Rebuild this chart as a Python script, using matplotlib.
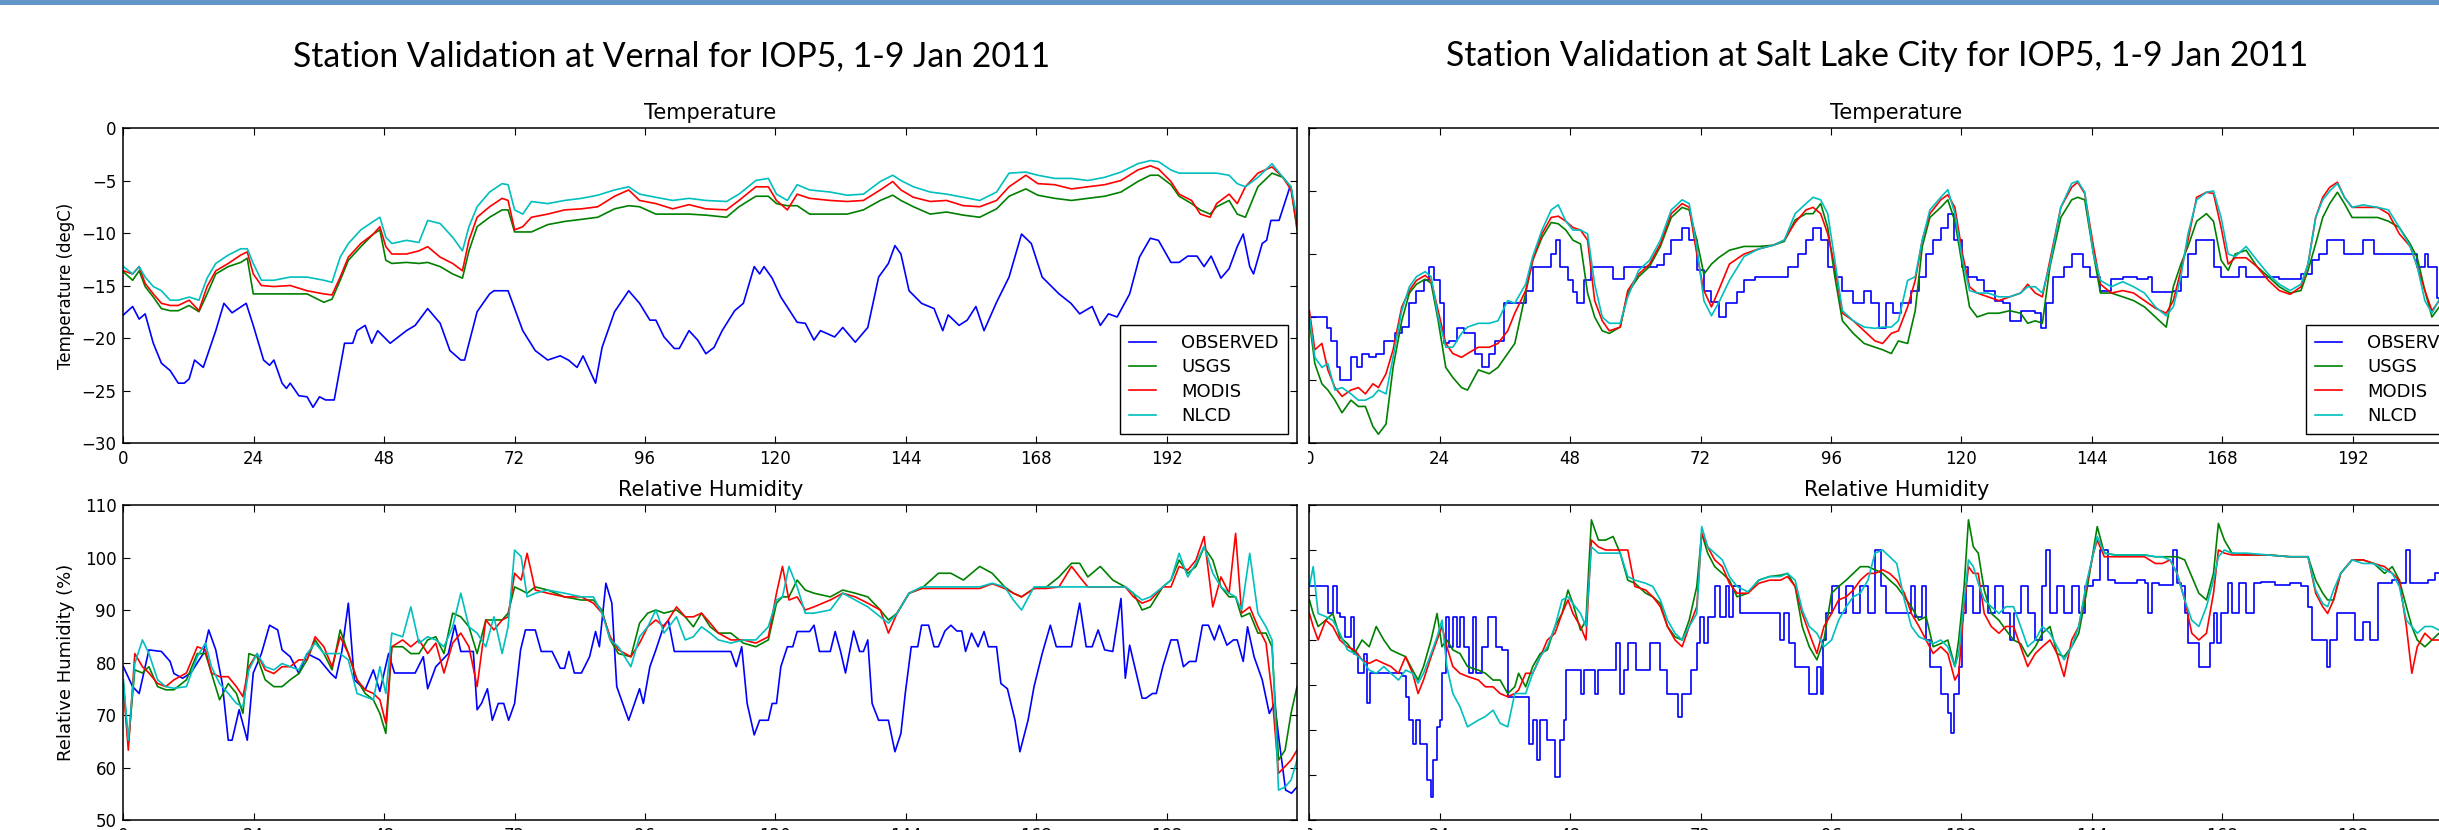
import matplotlib
matplotlib.use("Agg")
import matplotlib.pyplot as plt
from matplotlib.patches import Rectangle

# ---------------------------------------------------------------------------
# Vernal - temperature (degC)
# ---------------------------------------------------------------------------
vernal_obs_t_hours = [
    0, 1.7, 2.9, 4.0, 5.5, 7.0, 8.6, 10.1, 11.2, 12.1, 13.1, 14.7, 17.0, 18.5,
    20.0, 22.6, 23.9, 25.8, 26.9, 27.7, 29.2, 30.0, 30.7, 32.3, 33.8, 34.9,
    36.1, 37.2, 38.8, 40.7, 42.2, 43.0, 44.5, 45.7, 46.8, 49.1, 52.1, 53.7,
    56.0, 58.3, 60.1, 62.1, 62.8, 65.1, 67.4, 68.2, 70.8, 73.5, 75.8, 78.1,
    80.4, 81.9, 83.5, 84.6, 86.9, 88.1, 90.4, 93.0, 95.0, 96.9, 98.0, 99.5,
    101.4, 102.3, 104.1, 105.7, 107.2, 108.7, 110.2, 112.5, 114.1, 116.1,
    117.1, 117.9, 119.4, 121.0, 124.0, 125.5, 127.1, 128.3, 130.9, 132.4,
    134.7, 137.0, 139.0, 140.8, 142.0, 143.1, 144.6, 146.9, 149.2, 150.8,
    151.8, 153.8, 155.3, 156.9, 158.4, 160.7, 163.0, 165.3, 167.1, 169.1,
    172.2, 174.4, 176.0, 178.3, 179.8, 181.3, 182.9, 185.2, 187.0, 189.0,
    190.5, 192.8, 194.3, 195.9, 197.6, 198.9, 200.2, 202.0, 203.5, 205.0,
    206.1, 207.3, 208.0, 209.6, 210.4, 211.2, 212.7, 214.7, 215.0]
vernal_obs_t = [
    -17.8, -17.0, -18.2, -17.7, -20.5, -22.4, -23.1, -24.3, -24.3, -23.9,
    -22.1, -22.8, -19.3, -16.7, -17.6, -16.7, -18.8, -22.1, -22.6, -22.1,
    -24.3, -24.8, -24.3, -25.5, -25.6, -26.6, -25.6, -25.9, -25.9, -20.5,
    -20.5, -19.3, -18.8, -20.5, -19.3, -20.5, -19.3, -18.8, -17.2, -18.6,
    -21.2, -22.1, -22.1, -17.5, -15.8, -15.5, -15.5, -19.3, -21.2, -22.1,
    -21.7, -22.1, -22.8, -21.7, -24.3, -20.9, -17.5, -15.5, -16.7, -18.3,
    -18.3, -19.9, -21.0, -21.0, -19.3, -20.2, -21.5, -20.9, -19.3, -17.4,
    -16.7, -13.2, -13.9, -13.2, -14.3, -16.1, -18.5, -18.6, -20.2, -19.3,
    -19.9, -19.0, -20.4, -19.0, -14.2, -12.9, -11.2, -12.0, -15.5, -16.7,
    -17.2, -19.3, -17.8, -18.8, -18.3, -17.0, -19.3, -16.6, -14.2, -10.1,
    -11.0, -14.2, -15.8, -16.7, -17.7, -17.0, -18.8, -17.7, -18.0, -15.8,
    -12.3, -10.5, -10.7, -12.8, -12.8, -12.2, -12.2, -13.2, -12.2, -14.3,
    -13.4, -11.3, -10.1, -13.2, -13.9, -11.0, -10.7, -8.8, -8.8, -5.6, -6.0]

vernal_model_t_hours = [
    0, 1.7, 2.9, 4.0, 5.5, 7.0, 8.6, 10.1, 12.1, 13.9,
    15.4, 17.0, 19.3, 21.6, 22.8, 23.9, 25.4, 27.7, 30.7, 33.8,
    36.9, 38.4, 39.9, 41.4, 43.7, 46.0, 47.2, 48.3, 49.4, 52.1,
    54.4, 56.0, 58.3, 60.6, 62.4, 63.6, 65.1, 67.4, 69.7, 70.8,
    72.0, 73.5, 75.1, 78.1, 81.2, 84.3, 87.3, 90.4, 93.0, 95.0,
    98.0, 101.1, 104.1, 107.2, 111.0, 113.3, 116.4, 118.7, 120.2, 122.2,
    124.0, 126.3, 130.1, 133.2, 136.2, 139.3, 141.6, 143.1, 145.4, 148.5,
    151.5, 154.6, 157.6, 160.7, 163.0, 166.1, 168.3, 171.4, 174.5, 177.5,
    180.6, 183.6, 186.7, 189.0, 190.5, 192.8, 194.3, 196.6, 198.2, 200.0,
    201.2, 203.5, 205.0, 206.5, 208.8, 211.4, 213.4, 214.9, 216.0]
vernal_usgs_t = [
    -13.7, -14.5, -13.6, -15.1, -16.1, -17.2, -17.4, -17.4, -16.9, -17.5,
    -15.8, -13.9, -13.2, -12.8, -12.4, -15.8, -15.8, -15.8, -15.8, -15.8,
    -16.6, -16.3, -14.5, -12.6, -11.3, -10.1, -9.7, -12.6, -12.9, -12.8,
    -12.9, -12.8, -13.2, -13.9, -14.3, -11.7, -9.4, -8.5, -7.8, -7.8,
    -9.9, -9.9, -9.9, -9.2, -8.9, -8.7, -8.5, -7.7, -7.4, -7.5,
    -8.2, -8.2, -8.2, -8.3, -8.5, -7.5, -6.5, -6.5, -7.2, -7.4,
    -7.4, -8.2, -8.2, -8.2, -7.8, -6.9, -6.4, -6.9, -7.5, -8.2,
    -8.0, -8.3, -8.5, -7.7, -6.5, -5.8, -6.4, -6.7, -6.9, -6.7,
    -6.5, -6.1, -5.1, -4.5, -4.5, -5.4, -6.5, -7.2, -7.8, -8.2,
    -7.5, -6.9, -8.2, -8.5, -5.6, -4.3, -4.7, -5.6, -9.7]
vernal_modis_t = [
    -13.6, -13.9, -13.2, -14.8, -15.8, -16.7, -16.9, -16.9, -16.4, -17.4,
    -15.1, -13.6, -12.9, -12.1, -11.8, -13.9, -15.0, -15.1, -15.0, -15.5,
    -15.8, -15.9, -14.2, -12.3, -11.0, -10.1, -9.4, -11.3, -12.0, -12.0,
    -11.7, -11.3, -12.3, -12.9, -13.6, -10.7, -8.5, -7.5, -6.7, -6.9,
    -9.7, -9.4, -8.5, -8.2, -7.8, -7.7, -7.5, -6.5, -5.9, -6.9,
    -7.2, -7.7, -7.3, -7.7, -7.8, -6.9, -5.6, -5.6, -6.9, -7.8,
    -6.3, -6.7, -6.9, -7.0, -6.9, -5.9, -5.1, -5.9, -6.6, -7.0,
    -6.9, -7.4, -7.5, -6.9, -5.6, -4.5, -5.3, -5.4, -5.8, -5.6,
    -5.4, -5.0, -4.0, -3.6, -3.9, -5.1, -6.3, -6.9, -8.2, -8.5,
    -7.2, -6.3, -7.2, -5.6, -4.3, -3.7, -4.7, -5.9, -9.4]
vernal_nlcd_t = [
    -13.2, -13.9, -13.2, -14.2, -15.1, -15.5, -16.4, -16.4, -16.1, -16.4,
    -14.3, -12.9, -12.1, -11.5, -11.5, -12.9, -14.5, -14.5, -14.2, -14.2,
    -14.5, -14.7, -12.3, -11.0, -9.7, -8.9, -8.5, -10.4, -11.0, -10.7,
    -10.9, -8.8, -9.1, -10.4, -11.7, -9.4, -7.5, -6.1, -5.3, -5.4,
    -7.8, -8.2, -7.0, -7.2, -6.9, -6.7, -6.4, -5.9, -5.6, -6.3,
    -6.6, -6.9, -6.7, -6.9, -7.0, -6.3, -5.0, -4.8, -6.3, -6.9,
    -5.4, -5.9, -6.1, -6.4, -6.3, -5.1, -4.5, -5.0, -5.6, -6.1,
    -6.3, -6.6, -6.9, -6.1, -4.3, -4.2, -4.5, -4.8, -4.8, -5.0,
    -4.7, -4.2, -3.4, -3.1, -3.2, -4.0, -4.3, -4.3, -4.3, -4.3,
    -4.3, -4.5, -5.3, -5.6, -4.7, -3.4, -4.7, -5.6, -8.5]

# ---------------------------------------------------------------------------
# Vernal - relative humidity (%)
# ---------------------------------------------------------------------------
vernal_obs_rh_hours = [
    0, 1.7, 2.9, 4.7, 7.0, 8.6, 9.3, 10.9, 12.4, 14.7, 15.7, 17.0, 18.2, 19.3,
    20.0, 21.3, 22.8, 23.9, 25.4, 26.9, 28.4, 29.2, 30.7, 32.3, 33.8, 36.1,
    38.1, 39.1, 40.2, 41.4, 42.5, 44.5, 46.0, 47.2, 48.8, 49.9, 53.7, 55.2,
    56.0, 57.5, 59.8, 61.0, 62.1, 64.4, 65.1, 65.9, 67.0, 67.9, 69.0, 70.0,
    70.9, 72.0, 73.1, 74.0, 75.8, 76.9, 78.9, 80.4, 81.2, 82.0, 83.0, 84.3,
    85.8, 86.9, 87.6, 88.8, 89.9, 90.8, 91.9, 93.0, 95.0, 95.7, 96.9, 98.0,
    99.5, 100.3, 101.4, 111.8, 112.8, 113.8, 114.8, 116.1, 117.1, 118.7,
    119.4, 120.2, 121.0, 122.2, 123.2, 124.0, 126.3, 127.1, 128.1, 130.1,
    131.0, 132.0, 132.9, 134.4, 135.5, 136.2, 137.0, 137.8, 139.0, 140.8,
    142.0, 143.1, 143.9, 145.0, 146.2, 146.9, 148.2, 149.2, 150.0, 151.2,
    152.3, 153.4, 154.3, 155.0, 156.1, 157.3, 158.4, 159.2, 160.7, 161.5,
    162.7, 164.1, 165.0, 166.5, 167.6, 169.1, 170.6, 171.7, 174.5, 176.0,
    177.2, 178.3, 179.4, 180.6, 182.1, 183.6, 184.4, 185.2, 186.4, 187.5,
    188.2, 189.4, 190.1, 191.3, 192.8, 194.0, 195.1, 196.2, 197.4, 198.6,
    199.7, 200.8, 201.7, 203.1, 204.3, 205.0, 206.1, 206.9, 208.1, 209.6,
    210.9, 211.9, 212.7, 213.9, 215.0, 216.0]
vernal_obs_rh = [
    79.2, 75.4, 74.1, 82.4, 82.1, 80.2, 77.9, 77.0, 78.0, 81.7, 86.2, 82.4,
    76.0, 65.2, 65.2, 71.0, 65.2, 78.0, 81.7, 87.1, 86.2, 82.4, 81.1, 77.9,
    81.7, 80.5, 78.0, 77.0, 82.1, 91.3, 76.7, 74.8, 78.6, 74.5, 81.7, 78.0,
    78.0, 81.1, 75.0, 79.2, 81.7, 87.1, 82.1, 82.1, 71.0, 72.2, 75.0, 69.0,
    72.2, 72.2, 69.0, 72.2, 82.4, 86.2, 86.2, 82.1, 82.1, 78.9, 78.9, 82.1,
    78.0, 78.0, 81.1, 85.9, 83.0, 95.1, 91.3, 75.4, 72.2, 69.0, 75.0, 72.2,
    79.2, 82.4, 87.1, 88.0, 82.1, 82.1, 79.2, 83.0, 72.2, 66.2, 69.0, 69.0,
    72.2, 72.2, 79.2, 83.0, 83.0, 85.9, 85.9, 87.1, 82.1, 82.1, 85.9, 82.1,
    78.0, 86.0, 82.1, 82.1, 84.3, 72.2, 69.0, 69.0, 63.0, 66.5, 74.1, 83.0,
    83.0, 87.1, 87.1, 83.0, 83.0, 86.0, 87.1, 86.0, 86.0, 82.1, 85.6, 83.0,
    85.9, 83.0, 83.0, 76.0, 75.0, 69.0, 63.0, 69.0, 75.4, 81.7, 87.1, 83.0,
    83.0, 91.3, 83.0, 83.0, 86.2, 82.4, 82.1, 92.2, 77.0, 83.3, 78.0, 73.2,
    73.2, 74.1, 74.1, 79.2, 84.3, 84.3, 79.2, 80.2, 80.2, 87.1, 87.1, 84.3,
    87.1, 83.3, 84.3, 84.3, 80.2, 86.8, 81.1, 76.7, 70.3, 72.2, 65.2, 55.7,
    55.1, 56.3]

vernal_model_rh_hours = [
    0, 0.9, 2.1, 3.5, 4.7, 6.3, 7.8, 9.3, 11.6, 13.6,
    15.1, 16.2, 17.7, 19.3, 20.8, 22.0, 23.1, 24.6, 26.1, 27.7,
    29.2, 30.7, 32.3, 33.8, 35.3, 36.9, 38.4, 39.9, 41.4, 43.0,
    44.5, 46.0, 47.2, 48.3, 49.4, 51.4, 52.9, 54.4, 56.0, 57.5,
    59.0, 60.6, 62.1, 63.6, 65.1, 66.7, 68.2, 69.7, 70.8, 72.0,
    73.2, 74.3, 75.8, 78.1, 81.2, 84.3, 86.5, 88.1, 89.6, 91.1,
    93.4, 95.0, 96.5, 98.0, 99.5, 101.8, 103.4, 104.9, 106.4, 108.0,
    109.5, 111.8, 114.1, 116.4, 118.7, 120.2, 121.3, 122.5, 124.0, 125.5,
    127.1, 130.1, 132.4, 134.7, 137.0, 139.3, 140.8, 142.4, 144.6, 146.9,
    150.0, 152.3, 154.6, 157.6, 159.9, 162.2, 163.8, 165.3, 167.6, 169.9,
    172.2, 174.5, 176.0, 177.5, 179.8, 182.1, 184.4, 185.9, 187.5, 189.0,
    191.3, 192.8, 194.3, 195.9, 197.4, 198.9, 200.5, 202.0, 203.5, 204.7,
    205.8, 207.3, 208.8, 210.3, 211.4, 212.6, 213.8, 214.9, 216.0]
vernal_usgs_rh = [
    76.0, 64.6, 78.6, 78.0, 79.2, 75.4, 74.8, 74.8, 76.7, 81.7,
    81.7, 78.0, 72.9, 76.0, 74.1, 70.3, 81.7, 81.1, 76.7, 75.4,
    75.4, 76.7, 77.9, 80.5, 84.3, 81.7, 78.6, 86.2, 81.7, 76.7,
    74.1, 72.9, 70.3, 66.5, 83.0, 83.0, 81.7, 81.7, 84.3, 84.9,
    81.7, 89.4, 88.7, 86.8, 81.7, 88.1, 88.1, 88.1, 89.4, 94.4,
    93.8, 93.2, 94.4, 93.8, 92.5, 91.9, 91.9, 89.9, 84.3, 81.7,
    81.1, 87.5, 89.4, 90.0, 89.4, 90.0, 88.7, 86.8, 89.4, 86.8,
    85.6, 85.6, 83.7, 83.0, 84.3, 91.3, 92.5, 92.5, 95.7, 93.8,
    93.2, 92.5, 93.8, 93.2, 92.5, 90.0, 88.1, 89.4, 93.2, 94.1,
    97.0, 97.0, 95.7, 98.3, 97.0, 94.4, 93.2, 92.5, 94.1, 94.4,
    96.3, 98.9, 98.9, 96.3, 98.3, 95.7, 94.4, 93.2, 90.0, 90.6,
    94.4, 95.7, 99.5, 97.0, 98.3, 102.0, 99.5, 94.4, 92.5, 92.5,
    88.7, 89.4, 85.6, 85.6, 83.0, 61.4, 63.3, 70.3, 75.4]
vernal_modis_rh = [
    75.4, 63.3, 81.7, 79.2, 78.0, 76.0, 75.4, 76.7, 78.0, 83.0,
    82.4, 78.0, 77.3, 77.3, 75.4, 73.5, 79.2, 81.7, 78.6, 77.9,
    79.2, 79.2, 80.5, 80.5, 84.9, 83.0, 79.2, 84.9, 81.7, 76.7,
    74.8, 74.1, 72.9, 68.4, 83.0, 84.3, 83.0, 84.3, 81.7, 83.7,
    78.0, 83.7, 85.6, 83.0, 75.4, 88.1, 86.2, 88.1, 88.7, 97.0,
    95.7, 100.8, 93.8, 93.2, 92.5, 92.5, 91.3, 89.4, 84.9, 82.4,
    81.1, 83.7, 86.8, 88.1, 86.8, 90.6, 88.7, 88.7, 89.4, 87.5,
    85.6, 84.3, 84.3, 83.7, 84.9, 93.2, 98.3, 91.9, 92.5, 90.0,
    90.6, 91.9, 93.2, 92.5, 91.3, 90.0, 85.6, 89.4, 93.2, 94.1,
    94.1, 94.1, 94.1, 94.1, 95.0, 94.1, 93.2, 92.5, 94.1, 94.1,
    94.4, 98.3, 96.3, 94.4, 94.4, 94.4, 94.4, 92.5, 91.3, 91.9,
    94.4, 94.4, 98.3, 97.6, 99.5, 104.0, 90.6, 96.3, 93.2, 104.6,
    89.4, 90.6, 86.8, 83.7, 74.1, 58.9, 60.2, 61.4, 63.3]
vernal_nlcd_rh = [
    76.7, 65.2, 79.8, 84.3, 81.7, 76.7, 75.4, 75.1, 75.4, 81.1,
    83.7, 79.2, 76.0, 74.1, 72.2, 71.6, 78.6, 81.7, 79.2, 78.6,
    79.8, 79.2, 78.6, 81.7, 83.7, 81.7, 81.7, 81.7, 80.5, 74.1,
    73.5, 72.9, 79.2, 74.1, 85.6, 84.9, 90.6, 83.7, 84.9, 84.3,
    83.0, 86.8, 93.2, 86.8, 85.6, 83.0, 88.7, 81.7, 86.8, 101.4,
    100.2, 92.5, 93.2, 93.8, 93.2, 92.5, 92.5, 89.4, 84.3, 83.0,
    79.2, 84.9, 86.8, 90.0, 85.6, 88.7, 84.3, 84.9, 86.8, 85.6,
    84.3, 83.7, 84.3, 84.3, 86.8, 91.9, 92.5, 98.3, 94.4, 89.4,
    89.4, 90.0, 93.2, 91.9, 90.6, 88.7, 87.5, 89.4, 93.2, 94.4,
    94.4, 94.4, 94.4, 94.4, 95.1, 94.4, 91.9, 90.0, 94.4, 94.4,
    94.4, 94.4, 94.4, 94.4, 94.4, 94.4, 94.4, 93.2, 91.9, 92.5,
    94.4, 95.7, 100.8, 96.3, 98.9, 102.1, 97.0, 94.4, 93.2, 92.5,
    90.0, 100.8, 89.4, 86.8, 84.3, 55.7, 56.3, 57.6, 61.4]

# ---------------------------------------------------------------------------
# Salt Lake City - temperature (degC)
# ---------------------------------------------------------------------------
slc_obs_t_hours = [
    0, 2.96, 3.2, 3.9, 5.0, 5.6, 7.0, 7.65, 8.7, 9.7, 11.0, 12.3, 13.7, 15.7,
    17.0, 18.4, 19.7, 21.0, 22.1, 23.0, 24.0, 24.8, 25.7, 27.1, 28.4, 30.4,
    31.8, 33.1, 34.2, 35.8, 37.1, 38.5, 39.8, 41.1, 42.5, 44.5, 45.4, 46.2,
    47.6, 48.5, 49.2, 50.5, 51.9, 53.9, 55.9, 57.9, 59.9, 61.9, 63.9, 65.3,
    66.6, 68.6, 69.9, 71.3, 72.6, 74.0, 75.3, 76.6, 78.7, 80.0, 82.0, 85.4,
    88.0, 90.0, 91.4, 92.7, 94.1, 95.4, 96.7, 98.1, 100.1, 102.1, 103.4,
    104.8, 106.1, 107.5, 108.8, 110.8, 112.2, 113.5, 114.8, 116.2, 117.5,
    118.6, 120.2, 121.3, 122.9, 124.2, 126.2, 127.6, 128.9, 130.9, 132.2,
    133.6, 134.7, 135.6, 136.9, 138.9, 140.3, 142.3, 143.6, 145.6, 147.6,
    149.7, 152.3, 154.4, 155.0, 157.0, 159.0, 160.4, 161.7, 163.1, 165.1,
    166.4, 167.8, 169.8, 171.1, 172.4, 174.4, 176.5, 178.5, 180.5, 182.5,
    184.5, 185.8, 187.2, 189.2, 190.5, 192.5, 193.9, 195.9, 197.9, 200.6,
    201.9, 203.9, 205.3, 205.9, 207.5, 216.0]
slc_obs_t = [
    -10.0, -10.0, -10.9, -11.9, -14.0, -15.0, -15.0, -13.2, -14.0, -12.9,
    -13.2, -12.9, -11.9, -11.3, -10.8, -8.9, -7.9, -7.1, -6.0, -7.1,
    -8.9, -12.1, -11.9, -10.9, -11.3, -12.9, -14.0, -12.9, -11.9, -8.9,
    -8.9, -8.9, -7.9, -6.0, -6.0, -5.0, -3.9, -6.0, -7.1, -8.0,
    -8.9, -7.1, -6.0, -6.0, -7.0, -6.0, -6.0, -6.0, -5.9, -5.0,
    -3.9, -2.9, -3.9, -6.3, -7.9, -8.8, -10.0, -8.9, -8.0, -7.1,
    -6.8, -6.8, -6.0, -5.0, -3.9, -2.9, -3.9, -6.0, -6.8, -7.9,
    -8.9, -7.9, -8.9, -10.9, -8.9, -9.7, -8.9, -7.9, -6.8, -5.0,
    -3.9, -2.9, -1.8, -3.9, -6.0, -6.8, -7.1, -7.9, -8.7, -8.9,
    -10.3, -9.5, -9.5, -9.7, -10.9, -8.9, -6.8, -6.0, -5.0, -6.0,
    -6.8, -7.9, -7.0, -6.8, -7.0, -6.8, -8.0, -8.0, -7.9, -6.8,
    -5.0, -3.9, -3.9, -6.0, -6.8, -6.8, -6.0, -6.8, -6.8, -6.8,
    -7.0, -7.0, -6.6, -5.5, -5.0, -3.9, -3.9, -5.0, -5.0, -3.9,
    -5.0, -5.0, -5.0, -5.0, -6.0, -5.0, -6.0, -8.5, -12.0]

slc_model_t_hours = [
    0, 1.0, 2.3, 3.4, 4.7, 6.0, 7.65, 9.0, 10.3, 11.7,
    12.7, 14.1, 15.4, 17.0, 18.4, 19.7, 21.3, 22.4, 23.7, 25.1,
    26.4, 28.0, 29.1, 31.1, 33.1, 34.7, 36.5, 37.8, 39.8, 41.1,
    42.8, 44.5, 45.8, 47.2, 48.5, 49.9, 51.2, 52.5, 53.9, 55.2,
    57.2, 58.6, 60.6, 62.6, 64.6, 66.6, 68.6, 69.9, 71.3, 72.6,
    74.0, 75.3, 77.3, 80.0, 82.7, 85.4, 87.4, 89.4, 91.4, 92.7,
    94.1, 95.4, 96.7, 98.1, 100.1, 102.1, 104.1, 105.5, 107.1, 108.4,
    110.1, 111.5, 112.8, 114.2, 116.2, 117.5, 118.8, 120.2, 121.5, 122.9,
    124.9, 126.9, 128.9, 130.9, 132.2, 133.6, 134.9, 136.3, 138.3, 140.3,
    141.4, 142.7, 144.3, 145.6, 147.6, 149.7, 151.7, 153.7, 155.7, 157.7,
    159.0, 160.4, 161.7, 163.3, 165.1, 166.4, 167.8, 169.1, 170.4, 172.4,
    174.4, 176.5, 178.5, 180.5, 182.5, 183.8, 185.2, 186.5, 187.8, 189.2,
    190.5, 191.9, 193.9, 196.6, 198.6, 200.6, 202.6, 203.9, 205.3, 206.6,
    208.3, 212.0, 216.0]
slc_usgs_t = [
    -10.3, -13.7, -15.3, -15.8, -16.6, -17.6, -16.6, -17.1, -17.1, -18.7,
    -19.3, -18.5, -14.0, -10.3, -8.1, -7.4, -7.0, -7.3, -10.3, -14.0,
    -14.8, -15.6, -15.8, -14.2, -14.5, -14.0, -12.9, -12.1, -8.1, -5.5,
    -3.7, -2.5, -2.6, -3.1, -3.9, -4.2, -8.1, -10.0, -11.1, -11.3,
    -10.8, -8.1, -6.8, -6.0, -4.4, -2.1, -1.3, -1.5, -3.9, -6.6,
    -5.8, -5.3, -4.7, -4.4, -4.4, -4.3, -4.0, -2.3, -1.8, -1.8,
    -1.0, -2.9, -6.8, -10.3, -11.3, -12.1, -12.4, -12.6, -12.9, -11.9,
    -12.1, -9.5, -4.4, -2.1, -1.3, -0.7, -2.4, -6.0, -9.2, -10.0,
    -9.7, -9.7, -9.5, -9.7, -10.5, -10.3, -10.5, -6.0, -2.1, -0.7,
    -0.5, -0.7, -5.0, -8.1, -8.1, -8.4, -8.7, -9.2, -10.0, -10.8,
    -7.6, -5.8, -4.4, -2.4, -1.8, -2.4, -5.5, -6.3, -5.0, -4.7,
    -6.0, -6.8, -7.6, -8.1, -7.9, -6.3, -4.2, -2.1, -1.0, -0.1,
    -1.0, -2.1, -2.1, -2.1, -2.4, -2.9, -4.2, -5.3, -7.9, -10.0,
    -9.0, -11.0, -12.5]
slc_modis_t = [
    -9.5, -12.6, -12.1, -14.2, -15.6, -16.3, -15.8, -15.6, -16.1, -15.3,
    -15.6, -14.5, -12.6, -9.2, -7.9, -7.1, -6.7, -7.1, -9.5, -12.1,
    -12.9, -13.2, -12.9, -12.4, -12.4, -12.1, -11.1, -9.7, -7.9, -5.5,
    -3.4, -2.1, -2.0, -2.4, -2.9, -3.1, -3.9, -8.7, -10.3, -11.1,
    -10.8, -7.9, -6.6, -5.8, -4.2, -1.8, -1.0, -1.3, -5.0, -7.9,
    -9.2, -7.9, -5.8, -5.0, -4.6, -4.3, -3.9, -2.5, -1.5, -1.3,
    -1.8, -3.4, -6.0, -9.7, -10.3, -11.1, -11.9, -12.1, -11.3, -11.1,
    -9.2, -7.1, -3.9, -1.8, -0.7, -0.3, -1.3, -5.0, -7.6, -8.1,
    -8.4, -8.7, -8.4, -8.1, -7.4, -8.1, -8.4, -5.5, -1.3, 0.3,
    0.7, -0.2, -4.4, -7.4, -8.1, -7.9, -8.1, -8.7, -9.3, -9.7,
    -8.7, -6.3, -3.9, -0.5, -0.1, -0.2, -2.9, -5.8, -5.3, -5.3,
    -6.0, -7.1, -7.9, -8.2, -7.6, -5.8, -2.1, -0.5, 0.3, 0.7,
    -0.5, -1.3, -1.3, -1.3, -1.8, -3.4, -4.4, -6.0, -7.9, -9.5,
    -8.5, -10.5, -12.0]
slc_nlcd_t = [
    -9.9, -13.2, -14.0, -13.7, -15.8, -15.6, -16.1, -16.6, -16.6, -16.3,
    -15.8, -16.1, -13.2, -9.5, -7.6, -6.8, -6.4, -6.8, -10.0, -12.4,
    -12.4, -11.3, -10.8, -10.5, -10.5, -10.3, -8.7, -8.9, -7.4, -5.2,
    -3.1, -1.5, -1.1, -2.4, -3.1, -3.1, -3.4, -7.4, -10.0, -10.5,
    -10.5, -8.4, -6.3, -5.5, -3.9, -1.5, -0.7, -1.0, -4.4, -8.7,
    -9.9, -8.9, -7.1, -5.2, -4.6, -4.3, -3.9, -1.8, -1.0, -0.5,
    -0.7, -1.8, -5.5, -9.5, -10.3, -10.8, -10.9, -10.8, -10.8, -10.3,
    -7.1, -6.8, -3.9, -1.5, -0.5, 0.1, -1.8, -5.5, -7.9, -8.1,
    -8.1, -8.4, -8.4, -8.1, -7.6, -7.6, -8.1, -5.8, -1.3, 0.6,
    0.8, -0.1, -5.0, -7.1, -7.6, -7.2, -7.6, -8.1, -9.2, -9.9,
    -9.2, -6.8, -3.4, -0.7, -0.1, 0.0, -2.1, -5.0, -5.2, -4.4,
    -5.5, -6.6, -7.4, -7.9, -7.4, -5.8, -2.1, -0.7, 0.0, 0.6,
    -0.5, -1.3, -1.1, -1.3, -1.5, -2.9, -4.4, -6.0, -8.7, -9.7,
    -8.3, -10.0, -11.5]

# ---------------------------------------------------------------------------
# Salt Lake City - relative humidity (%)
# ---------------------------------------------------------------------------
slc_obs_rh_hours = [
    0, 2.3, 3.4, 4.3, 5.0, 5.6, 6.6, 7.65, 8.3, 9.0, 10.1, 10.6, 11.1, 17.0,
    17.7, 18.4, 19.0, 19.7, 20.4, 21.7, 22.4, 22.8, 23.5, 24.0, 24.4, 25.1,
    25.7, 26.4, 27.1, 27.7, 28.4, 29.3, 30.2, 30.7, 31.8, 32.8, 34.4, 35.5,
    36.5, 39.8, 40.5, 41.1, 41.8, 42.5, 43.8, 45.2, 46.2, 46.8, 47.2, 49.9,
    50.5, 52.5, 53.2, 56.5, 57.2, 57.9, 58.6, 60.2, 62.6, 64.6, 65.9, 67.9,
    68.6, 70.3, 71.3, 71.9, 72.6, 73.3, 74.6, 75.6, 76.6, 77.3, 78.0, 79.3,
    82.0, 86.7, 87.4, 88.3, 89.4, 92.0, 93.4, 94.1, 94.5, 95.0, 96.1, 97.4,
    98.8, 100.1, 101.4, 102.8, 104.1, 105.2, 106.1, 110.8, 111.5, 112.8,
    113.5, 114.2, 116.2, 117.5, 118.0, 118.6, 119.5, 120.2, 120.9, 122.2,
    123.5, 124.9, 126.2, 127.6, 128.9, 129.6, 130.9, 132.2, 133.6, 134.9,
    135.6, 136.3, 137.6, 138.9, 140.3, 141.6, 142.7, 144.3, 145.6, 147.0,
    148.3, 152.3, 153.7, 154.4, 155.0, 156.4, 159.0, 159.7, 160.4, 161.1,
    161.7, 163.7, 165.7, 166.4, 167.1, 167.8, 169.1, 169.8, 171.1, 172.4,
    173.8, 175.1, 177.8, 180.5, 182.5, 183.8, 184.5, 187.2, 187.8, 189.2,
    192.5, 193.9, 195.2, 196.6, 199.3, 200.6, 201.9, 202.6, 205.9, 207.2,
    208.3, 216.0]
slc_obs_rh = [
    91.9, 91.9, 85.9, 91.9, 85.9, 85.2, 80.7, 85.2, 77.0, 72.6, 77.0, 65.9,
    72.6, 71.9, 67.4, 62.2, 57.0, 62.2, 57.0, 48.9, 45.2, 53.3, 60.7, 62.2,
    72.6, 85.2, 78.5, 85.2, 78.5, 85.2, 78.5, 72.6, 85.2, 72.6, 78.5, 85.2,
    78.5, 77.8, 67.4, 67.4, 57.0, 62.2, 53.3, 62.2, 57.8, 49.6, 57.8, 62.2,
    73.3, 68.1, 73.3, 68.1, 73.3, 79.3, 68.1, 73.3, 79.3, 73.3, 79.3, 73.3,
    68.1, 63.0, 68.1, 73.3, 79.3, 85.2, 79.3, 85.2, 91.9, 85.2, 91.9, 85.2,
    91.9, 85.9, 85.9, 80.0, 85.9, 79.3, 74.1, 68.1, 74.1, 68.1, 80.0, 85.9,
    91.9, 85.9, 91.9, 85.9, 91.9, 85.9, 100.0, 91.9, 85.9, 91.9, 85.2, 91.9,
    80.0, 74.1, 68.1, 63.7, 59.3, 68.1, 74.1, 85.9, 91.9, 85.9, 91.9, 85.9,
    91.9, 85.9, 80.0, 85.9, 91.9, 85.9, 80.0, 91.9, 100.0, 85.9, 91.9, 85.9,
    91.9, 85.9, 91.9, 93.3, 100.0, 93.3, 92.6, 93.3, 92.6, 85.9, 92.6, 92.2,
    100.0, 92.6, 91.9, 85.9, 79.3, 74.1, 79.3, 85.9, 79.3, 85.9, 92.6, 85.9,
    92.6, 85.9, 92.6, 93.0, 92.2, 92.6, 91.9, 87.4, 80.0, 74.1, 80.0, 85.9,
    80.0, 84.1, 80.0, 92.6, 93.3, 92.6, 100.0, 92.6, 93.3, 94.8, 93.3, 93.0]

slc_model_rh_hours = [
    0, 0.7, 1.6, 3.0, 4.3, 5.6, 7.0, 8.3, 9.7, 11.0,
    12.3, 13.7, 15.0, 16.4, 17.7, 19.0, 20.0, 21.0, 22.4, 23.5,
    24.4, 25.3, 26.4, 27.7, 29.1, 31.1, 32.4, 33.8, 35.1, 36.5,
    37.8, 38.5, 39.8, 41.1, 42.5, 43.8, 45.2, 46.5, 47.6, 48.5,
    49.9, 50.9, 51.9, 53.2, 54.5, 55.9, 57.2, 58.6, 59.9, 61.9,
    63.2, 64.6, 65.9, 67.3, 68.6, 69.9, 71.3, 72.2, 73.3, 74.6,
    76.0, 77.3, 78.7, 80.7, 82.7, 84.7, 86.7, 88.0, 89.4, 90.7,
    92.0, 93.4, 94.7, 96.1, 97.4, 98.8, 100.1, 101.4, 102.8, 104.1,
    105.5, 106.8, 108.1, 109.5, 110.8, 112.2, 113.5, 114.8, 116.2, 117.5,
    118.8, 119.5, 120.5, 121.3, 122.2, 123.1, 124.2, 125.5, 126.9, 128.2,
    129.6, 130.9, 132.2, 133.6, 134.9, 136.3, 137.6, 138.9, 140.3, 141.6,
    143.0, 144.3, 145.0, 146.3, 148.3, 151.0, 153.7, 155.7, 157.0, 158.4,
    159.7, 161.1, 162.4, 163.7, 165.1, 166.4, 167.3, 168.4, 169.8, 172.4,
    176.5, 180.5, 183.8, 185.2, 186.5, 187.4, 188.5, 189.8, 191.9, 193.9,
    195.9, 197.9, 199.3, 200.6, 201.9, 202.9, 203.9, 205.3, 206.6, 207.9,
    212.0, 216.0]
slc_usgs_rh = [
    88.9, 85.9, 83.0, 84.4, 85.9, 80.7, 79.2, 77.0, 80.0, 78.5,
    83.0, 80.0, 77.8, 77.0, 76.3, 73.3, 71.1, 74.1, 80.0, 85.9,
    78.5, 80.0, 77.8, 77.0, 74.1, 73.3, 72.6, 71.1, 71.1, 68.1,
    69.6, 72.6, 69.6, 74.1, 77.0, 77.8, 83.0, 85.9, 91.1, 88.1,
    82.2, 84.4, 106.7, 102.2, 102.2, 103.0, 99.3, 93.3, 92.6, 90.4,
    89.6, 88.1, 83.0, 80.7, 80.0, 84.4, 91.9, 103.7, 99.3, 96.3,
    94.8, 93.3, 89.6, 90.4, 93.3, 94.1, 94.4, 94.8, 91.9, 83.0,
    78.5, 75.6, 80.0, 90.4, 91.9, 93.3, 94.8, 96.3, 96.3, 95.6,
    94.8, 93.3, 91.9, 89.6, 87.4, 84.4, 85.2, 78.5, 79.2, 80.0,
    74.1, 80.0, 91.9, 106.7, 100.7, 99.3, 91.1, 85.9, 84.4, 82.2,
    80.0, 79.2, 76.3, 78.5, 81.5, 83.0, 77.0, 76.3, 78.5, 81.5,
    90.4, 100.0, 105.2, 99.3, 98.9, 98.9, 98.9, 98.5, 98.5, 98.5,
    98.5, 97.8, 94.1, 90.4, 88.9, 94.8, 105.9, 102.2, 99.3, 98.9,
    98.9, 98.5, 98.5, 93.3, 90.4, 88.9, 88.9, 94.8, 97.8, 97.8,
    97.0, 94.8, 96.3, 93.3, 87.4, 83.0, 80.0, 78.5, 80.0, 81.5,
    83.0, 85.0]
slc_modis_rh = [
    85.9, 83.0, 80.0, 84.4, 83.0, 80.0, 78.5, 77.8, 75.6, 74.8,
    75.6, 74.8, 74.1, 72.6, 76.3, 72.6, 68.1, 71.1, 76.3, 80.0,
    83.0, 78.5, 74.1, 72.6, 71.9, 71.1, 69.6, 69.6, 68.1, 67.4,
    68.1, 68.9, 72.6, 72.6, 76.3, 80.0, 81.5, 85.9, 88.9, 85.9,
    83.0, 80.0, 102.2, 100.7, 100.0, 100.0, 100.0, 100.0, 91.9, 91.1,
    89.6, 87.4, 83.0, 80.0, 78.5, 83.0, 87.4, 103.7, 100.7, 97.8,
    96.3, 92.6, 90.4, 90.4, 92.6, 93.3, 93.3, 94.1, 91.9, 85.9,
    81.5, 77.0, 83.0, 85.9, 88.9, 89.6, 91.1, 93.3, 94.8, 94.8,
    95.6, 94.8, 93.3, 90.4, 85.9, 83.0, 80.0, 77.0, 78.5, 77.0,
    71.1, 72.6, 87.4, 96.3, 94.8, 94.8, 85.9, 83.0, 81.5, 83.0,
    83.0, 78.5, 74.1, 77.0, 78.5, 80.0, 77.0, 71.9, 80.0, 83.0,
    91.9, 99.3, 102.2, 98.5, 98.5, 98.5, 98.5, 97.0, 97.0, 97.8,
    94.8, 88.9, 81.5, 80.0, 81.5, 90.4, 100.0, 99.3, 98.9, 98.9,
    98.9, 98.5, 98.5, 90.4, 87.4, 85.9, 88.9, 94.8, 97.8, 97.8,
    97.0, 96.3, 94.8, 93.3, 83.0, 72.6, 78.5, 81.5, 80.0, 80.0,
    82.0, 84.0]
slc_nlcd_rh = [
    91.9, 96.3, 85.9, 85.2, 84.4, 81.5, 77.8, 77.0, 75.6, 73.3,
    72.6, 74.1, 72.6, 71.1, 73.3, 72.6, 70.4, 72.6, 77.0, 80.7,
    84.4, 74.1, 68.1, 65.2, 60.7, 62.2, 63.0, 64.4, 61.5, 60.7,
    68.1, 68.1, 68.1, 72.6, 76.3, 78.5, 83.0, 88.9, 89.6, 88.1,
    85.9, 83.0, 100.7, 99.3, 99.3, 99.3, 99.3, 94.1, 93.3, 92.6,
    91.9, 88.9, 84.4, 81.5, 80.0, 83.0, 85.9, 105.2, 100.7, 99.3,
    97.8, 94.1, 91.9, 90.7, 93.3, 94.1, 94.1, 94.8, 93.3, 86.7,
    83.0, 81.5, 78.5, 80.0, 84.4, 87.4, 89.6, 90.4, 93.3, 99.3,
    100.0, 98.5, 97.0, 88.9, 83.0, 80.7, 80.0, 79.2, 80.0, 78.5,
    74.1, 77.0, 88.9, 97.8, 96.3, 92.6, 88.9, 87.4, 85.9, 87.4,
    87.4, 83.0, 78.5, 80.0, 83.0, 81.5, 78.5, 75.6, 78.5, 83.0,
    92.6, 99.3, 103.0, 99.3, 98.9, 98.9, 98.9, 98.5, 98.5, 97.8,
    94.8, 88.9, 84.4, 83.0, 87.4, 93.3, 98.5, 100.0, 99.3, 99.3,
    98.9, 98.5, 98.5, 91.1, 88.1, 87.4, 91.1, 94.8, 97.8, 97.0,
    97.0, 95.6, 94.8, 91.9, 84.4, 83.0, 81.5, 83.0, 83.0, 82.2,
    84.0, 86.0]

hour_ticks = [0, 24, 48, 72, 96, 120, 144, 168, 192]
series_labels = ["OBSERVED", "USGS", "MODIS", "NLCD"]
series_colors = ["b", "g", "r", "c"]

# ---------------------------------------------------------------------------
# Figure layout (pixel geometry of a 2439 x 830 canvas)
# ---------------------------------------------------------------------------
FW, FH = 2439, 830
plt.rcParams.update({
    "font.family": "DejaVu Sans",
    "axes.linewidth": 1.1,
    "xtick.direction": "in",
    "ytick.direction": "in",
    "xtick.top": True,
    "ytick.right": True,
    "xtick.major.size": 5,
    "ytick.major.size": 5,
    "xtick.major.pad": 5,
    "ytick.major.pad": 5,
    "xtick.labelsize": 12,
    "ytick.labelsize": 12,
})

fig = plt.figure(figsize=(FW / 100, FH / 100), dpi=100, facecolor="white")


def px_axes(x0, y_top, x1, y_bottom):
    return fig.add_axes([x0 / FW, 1 - y_bottom / FH,
                         (x1 - x0) / FW, (y_bottom - y_top) / FH])


LW = 1.2


def draw_panel(ax, obs_h, obs, mod_h, usgs, modis, nlcd, ylim, yticks,
               title, steps=False, show_ylabels=True, ylabel=None,
               ylabel_size=11, legend=False):
    ax.plot(obs_h, obs, color=series_colors[0], lw=LW, label=series_labels[0],
            drawstyle="steps-post" if steps else "default")
    ax.plot(mod_h, usgs, color=series_colors[1], lw=LW, label=series_labels[1])
    ax.plot(mod_h, modis, color=series_colors[2], lw=LW, label=series_labels[2])
    ax.plot(mod_h, nlcd, color=series_colors[3], lw=LW, label=series_labels[3])
    ax.set_xlim(0, 216)
    ax.set_ylim(*ylim)
    ax.set_xticks(hour_ticks)
    ax.set_yticks(yticks)
    ax.set_title(title, fontsize=15, pad=6.5)
    if not show_ylabels:
        ax.tick_params(labelleft=False)
    if ylabel:
        ax.set_ylabel(ylabel, fontsize=ylabel_size)
        ax.yaxis.set_label_coords(-0.041, 0.5)
    if legend:
        ax.legend(loc="lower right", fontsize=13, frameon=True, fancybox=False,
                  shadow=False, framealpha=1, edgecolor="black",
                  borderpad=0.5, labelspacing=0.35, handlelength=1.5,
                  handletextpad=1.4, borderaxespad=0.5)


ax_vt = px_axes(123.4, 128, 1297, 443)
ax_vr = px_axes(123.4, 505, 1297, 820)
ax_st = px_axes(1309.4, 128, 2483, 443)
ax_sr = px_axes(1309.4, 505, 2483, 820)

draw_panel(ax_vt, vernal_obs_t_hours, vernal_obs_t, vernal_model_t_hours,
           vernal_usgs_t, vernal_modis_t, vernal_nlcd_t, (-30, 0),
           [-30, -25, -20, -15, -10, -5, 0], "Temperature",
           ylabel="Temperature (degC)", ylabel_size=12, legend=True)
draw_panel(ax_vr, vernal_obs_rh_hours, vernal_obs_rh, vernal_model_rh_hours,
           vernal_usgs_rh, vernal_modis_rh, vernal_nlcd_rh, (50, 110),
           [50, 60, 70, 80, 90, 100, 110], "Relative Humidity",
           ylabel="Relative Humidity (%)", ylabel_size=13)
draw_panel(ax_st, slc_obs_t_hours, slc_obs_t, slc_model_t_hours,
           slc_usgs_t, slc_modis_t, slc_nlcd_t, (-20, 5),
           [-20, -15, -10, -5, 0, 5], "Temperature", steps=True,
           show_ylabels=False, legend=True)
draw_panel(ax_sr, slc_obs_rh_hours, slc_obs_rh, slc_model_rh_hours,
           slc_usgs_rh, slc_modis_rh, slc_nlcd_rh, (40, 110),
           [40, 50, 60, 70, 80, 90, 100, 110], "Relative Humidity", steps=True,
           show_ylabels=False)

# slide headings
fig.text(672 / FW, 1 - 56 / FH,
         "Station Validation at Vernal for IOP5, 1-9 Jan 2011",
         ha="center", va="center", fontsize=24.3, family="Lato")
fig.text(1877 / FW, 1 - 56 / FH,
         "Station Validation at Salt Lake City for IOP5, 1-9 Jan 2011",
         ha="center", va="center", fontsize=24.3, family="Lato")

# the Salt Lake City image is trimmed at its left edge
fig.add_artist(Rectangle((1299 / FW, 0), 9.2 / FW, 1 - 6 / FH,
                         transform=fig.transFigure, facecolor="white",
                         edgecolor="none", zorder=10))
# slide accent bar along the top edge
fig.add_artist(Rectangle((0, 1 - 5 / FH), 1, 5 / FH, transform=fig.transFigure,
                         facecolor="#6495c8", edgecolor="none", zorder=11))

fig.savefig("out.png", dpi=100, facecolor="white")
